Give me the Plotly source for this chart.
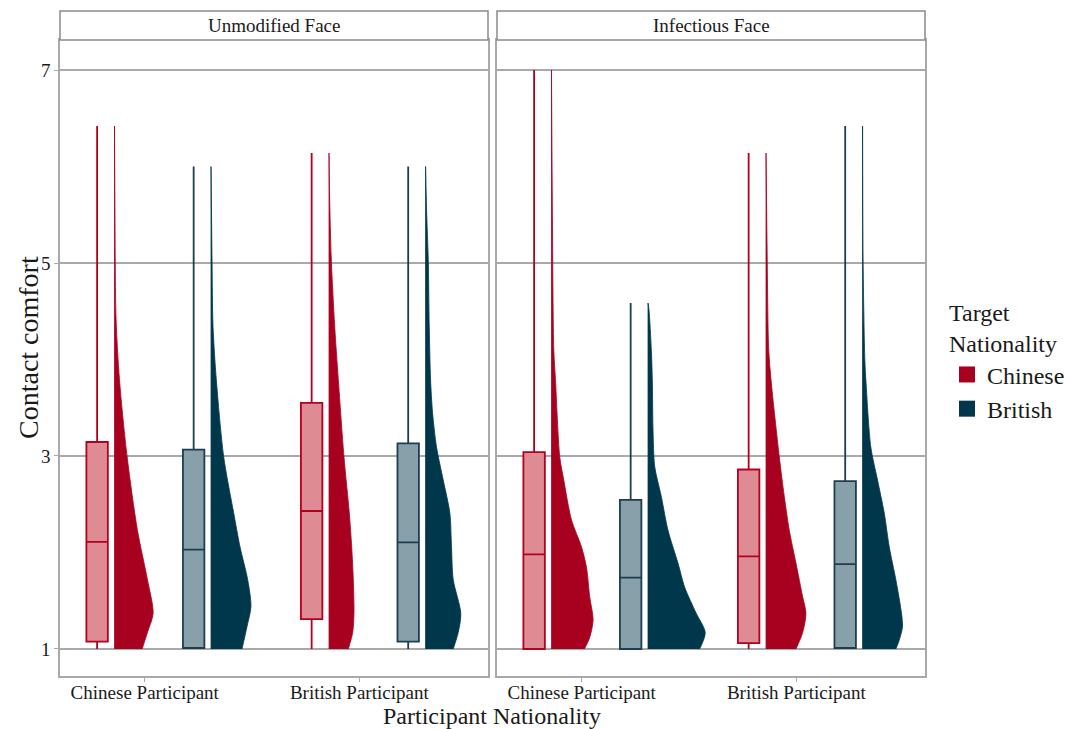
import plotly.graph_objects as go

# ---------------- data ----------------
facets = ["Unmodified Face", "Infectious Face"]
participant_groups = ["Chinese Participant", "British Participant"]
targets = ["Chinese", "British"]

# box statistics per facet -> target -> [Chinese Participant, British Participant]
box_low = {"Unmodified Face": {"Chinese": [1.0, 1.0], "British": [1.0, 1.0]},
           "Infectious Face": {"Chinese": [1.0, 1.0], "British": [1.0, 1.0]}}
box_q1 = {"Unmodified Face": {"Chinese": [1.076, 1.31], "British": [1.01, 1.076]},
          "Infectious Face": {"Chinese": [1.0, 1.06], "British": [1.0, 1.01]}}
box_median = {"Unmodified Face": {"Chinese": [2.11, 2.43], "British": [2.03, 2.105]},
              "Infectious Face": {"Chinese": [1.98, 1.96], "British": [1.74, 1.88]}}
box_q3 = {"Unmodified Face": {"Chinese": [3.145, 3.55], "British": [3.065, 3.13]},
          "Infectious Face": {"Chinese": [3.04, 2.86], "British": [2.545, 2.74]}}
box_high = {"Unmodified Face": {"Chinese": [6.42, 6.14], "British": [6.0, 6.0]},
            "Infectious Face": {"Chinese": [7.0, 6.14], "British": [4.585, 6.42]}}

# half-violin density profiles (y level, relative density)
dens_y = {
    ("Unmodified Face", "Chinese", 0): [6.42, 5.52, 4.44, 3.79, 2.99, 2.23, 1.72, 1.37, 1.17, 1.0],
    ("Unmodified Face", "British", 0): [6.0, 5.03, 4.34, 3.79, 2.99, 2.41, 2.06, 1.72, 1.44, 1.23, 1.0],
    ("Unmodified Face", "Chinese", 1): [6.14, 5.73, 5.03, 4.34, 3.79, 2.99, 2.41, 2.06, 1.72, 1.37, 1.17, 1.0],
    ("Unmodified Face", "British", 1): [6.0, 5.55, 5.03, 4.34, 3.79, 3.45, 3.09, 2.75, 2.41, 2.06, 1.72, 1.37, 1.17, 1.0],
    ("Infectious Face", "Chinese", 0): [7.0, 5.37, 4.1, 3.79, 2.99, 2.75, 2.34, 2.06, 1.85, 1.54, 1.3, 1.12, 1.0],
    ("Infectious Face", "British", 0): [4.585, 4.51, 4.1, 3.79, 3.27, 2.89, 2.58, 2.23, 1.89, 1.64, 1.37, 1.17, 1.0],
    ("Infectious Face", "Chinese", 1): [6.14, 5.21, 4.1, 3.79, 2.99, 2.58, 2.23, 1.89, 1.54, 1.37, 1.17, 1.0],
    ("Infectious Face", "British", 1): [6.42, 5.03, 3.99, 3.79, 3.09, 2.75, 2.41, 2.06, 1.72, 1.37, 1.23, 1.09, 1.0],
}
dens_w = {
    ("Unmodified Face", "Chinese", 0): [0, 0.5, 1.5, 5, 12.7, 23, 33, 38.7, 33, 27.7],
    ("Unmodified Face", "British", 0): [0, 1, 2, 5.3, 12.7, 22.7, 29, 36.7, 40, 36, 31],
    ("Unmodified Face", "Chinese", 1): [0, 0.5, 2.3, 5.7, 9.3, 15, 20.3, 22.7, 24.3, 25, 23.7, 19.3],
    ("Unmodified Face", "British", 1): [0, 1, 2.7, 3.7, 5, 7, 11, 17.7, 24.3, 26, 27.7, 35.3, 32.7, 27.7],
    ("Infectious Face", "Chinese", 0): [0, 1, 2.3, 4, 8.3, 12.3, 20, 30, 35, 38.3, 41.7, 38.3, 33],
    ("Infectious Face", "British", 0): [0, 1, 3.3, 4.3, 5, 6.7, 13.3, 20, 30, 36.7, 48.3, 57.3, 51.7],
    ("Infectious Face", "Chinese", 1): [0, 1, 2.7, 5, 13.3, 18.3, 23.3, 30, 36.7, 40, 36.7, 30],
    ("Infectious Face", "British", 1): [0, 0.5, 2.3, 3.3, 8.3, 15, 21.7, 26.7, 33.3, 39, 40, 36.7, 33.3],
}

y_ticks = [1, 3, 5, 7]

# ---------------- styling ----------------
violin_color = {"Chinese": "#a8001f", "British": "#00374b"}
box_fill = {"Chinese": "#de8b93", "British": "#88a0aa"}
box_line = {"Chinese": "#b3001f", "British": "#1c3f50"}
offset = {"Chinese": -0.222, "British": 0.228}
violin_gap = 0.081
dens_scale = 1 / 215.0
FONT = "Liberation Serif"
GRID = "#a9a9a9"
TXT = "#1a1a1a"

fig = go.Figure()
axes = [("x", "y"), ("x2", "y2")]

for fi, facet in enumerate(facets):
    xa, ya = axes[fi]
    for t in targets:
        pos = [i + 1 + offset[t] for i in range(len(participant_groups))]
        fig.add_trace(go.Box(
            x=pos, q1=box_q1[facet][t], median=box_median[facet][t], q3=box_q3[facet][t],
            lowerfence=box_low[facet][t], upperfence=box_high[facet][t],
            width=0.1, whiskerwidth=0, fillcolor=box_fill[t],
            line=dict(color=box_line[t], width=1.8), boxpoints=False,
            showlegend=False, hoverinfo="skip", xaxis=xa, yaxis=ya))
        for gi in range(len(participant_groups)):
            base = gi + 1 + offset[t] + violin_gap
            ys = dens_y[(facet, t, gi)]
            ws = dens_w[(facet, t, gi)]
            # straight base edge
            fig.add_trace(go.Scatter(
                x=[base] * len(ys), y=ys, mode="lines",
                line=dict(color=violin_color[t], width=0.8),
                showlegend=False, hoverinfo="skip", xaxis=xa, yaxis=ya))
            # smooth density edge filled back to the base
            fig.add_trace(go.Scatter(
                x=[base + w * dens_scale for w in ws], y=ys, mode="lines",
                fill="tonextx", fillcolor=violin_color[t],
                line=dict(color=violin_color[t], width=0.8, shape="spline", smoothing=0.8),
                showlegend=False, hoverinfo="skip", xaxis=xa, yaxis=ya))

# legend entries
for t in targets:
    fig.add_trace(go.Scatter(x=[None], y=[None], mode="markers", name=t,
                             marker=dict(symbol="square", size=22, color=violin_color[t])))

panel_top = (676 - 40) / 665.0
d1 = [0, 428 / 865.0]
d2 = [(497 - 60) / 865.0, 1]

common_x = dict(range=[0.605, 2.6], tickmode="array", tickvals=[1, 2],
                ticktext=participant_groups, showgrid=False, zeroline=False,
                showline=True, mirror=True, linecolor=GRID, linewidth=1.5,
                ticks="outside", ticklen=4, tickcolor=GRID, ticklabelstandoff=-6,
                tickfont=dict(family=FONT, size=19, color=TXT))
common_y = dict(range=[0.72, 7.311], tickvals=y_ticks, showgrid=True, gridcolor=GRID,
                gridwidth=1.5, zeroline=False, showline=True, mirror=True,
                linecolor=GRID, linewidth=1.5, tickcolor=GRID, domain=[0, panel_top])

fig.update_layout(
    width=1070, height=729,
    margin=dict(l=60, r=145, t=11, b=53, autoexpand=False),
    paper_bgcolor="white", plot_bgcolor="white",
    xaxis=dict(domain=d1, anchor="y", **common_x),
    xaxis2=dict(domain=d2, anchor="y2", **common_x),
    yaxis=dict(anchor="x", ticks="outside", ticklen=4,
               tickfont=dict(family=FONT, size=19, color=TXT), **common_y),
    yaxis2=dict(anchor="x2", matches="y", showticklabels=False, ticks="", **common_y),
    legend=dict(x=(947 - 60) / 865.0, y=0.5805, xanchor="left", yanchor="top",
                traceorder="normal",
                title=dict(text="Target<br>Nationality", font=dict(family=FONT, size=24, color=TXT)),
                font=dict(family=FONT, size=24, color=TXT),
                tracegroupgap=0, itemwidth=30, bgcolor="rgba(0,0,0,0)"),
    showlegend=True,
)

# strips
for dom, facet in zip([d1, d2], facets):
    fig.add_shape(type="rect", xref="paper", yref="paper", x0=dom[0], x1=dom[1],
                  y0=panel_top, y1=1, line=dict(color="#8a8a8a", width=1.5), fillcolor="white")
    fig.add_annotation(x=(dom[0] + dom[1]) / 2, y=(panel_top + 1) / 2, xref="paper", yref="paper",
                       text=facet, showarrow=False, font=dict(family=FONT, size=19, color=TXT),
                       xanchor="center", yanchor="middle")

# axis titles
fig.add_annotation(x=(492 - 60) / 865.0, y=(676 - 716) / 665.0, xref="paper", yref="paper",
                   text="Participant Nationality", showarrow=False,
                   font=dict(family=FONT, size=24, color=TXT), xanchor="center", yanchor="middle")
fig.add_annotation(x=(28 - 60) / 865.0, y=(676 - 348) / 665.0, xref="paper", yref="paper",
                   text="Contact comfort", showarrow=False, textangle=-90,
                   font=dict(family=FONT, size=28, color=TXT), xanchor="center", yanchor="middle")

fig.write_html("out.html", config={"displayModeBar": False},
               post_script="document.body.style.margin='0';document.body.style.padding='0';")
